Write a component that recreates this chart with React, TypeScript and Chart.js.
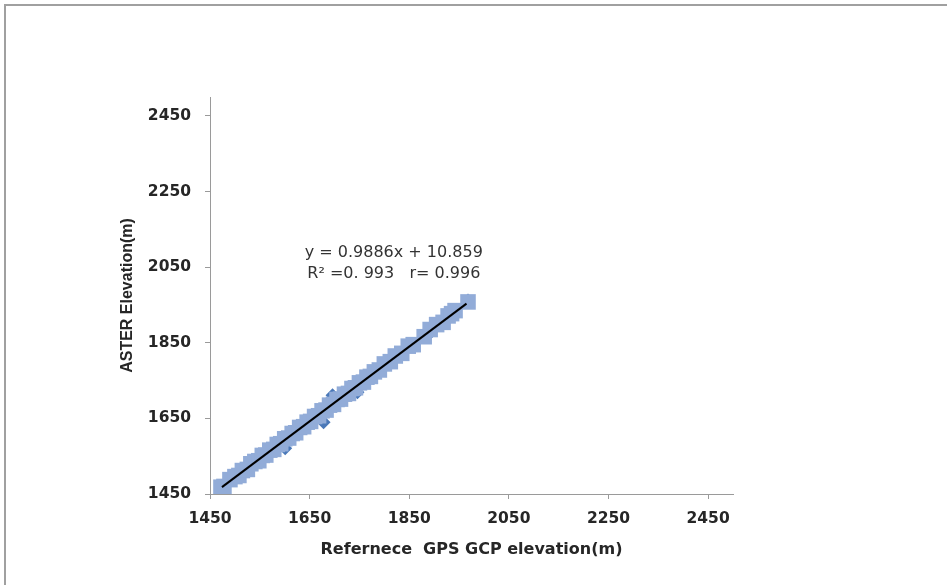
import React, { useEffect, useRef } from "react";
import { Chart, registerables } from "chart.js";

Chart.register(...registerables);

// ---- data ----
const GPS_X = [
  1472, 1478, 1490, 1500, 1508, 1515, 1525, 1532, 1540, 1548, 1555, 1562, 1570, 1578,
  1585, 1592, 1600, 1608, 1615, 1622, 1630, 1638, 1645, 1652, 1660, 1668, 1675, 1683,
  1690, 1698, 1705, 1712, 1720, 1728, 1735, 1742, 1750, 1758, 1765, 1772, 1780, 1790,
  1800, 1812, 1822, 1835, 1848, 1858, 1880, 1892, 1905, 1918, 1928, 1935, 1942, 1968,
];
const ASTER_Y = [
  1468, 1470, 1488, 1496, 1499, 1512, 1515, 1530, 1536, 1538, 1552, 1553, 1566, 1568,
  1581, 1583, 1596, 1598, 1610, 1612, 1626, 1628, 1640, 1642, 1655, 1657, 1670, 1672,
  1685, 1687, 1700, 1701, 1714, 1716, 1729, 1731, 1744, 1746, 1759, 1761, 1773, 1778,
  1794, 1800, 1815, 1822, 1841, 1845, 1866, 1885, 1898, 1904, 1921, 1927, 1935, 1958,
];
const OUTLIER_X = [1601, 1678, 1696, 1746, 1893, 1929, 1968];
const OUTLIER_Y = [1571, 1640, 1711, 1719, 1877, 1930, 1962];

const TICKS = [1450, 1650, 1850, 2050, 2250, 2450];
const AXIS_MIN = 1450;
const AXIS_MAX = 2500;

const SLOPE = 0.9886;
const INTERCEPT = 10.859;
const TREND_X = [1474, 1965];

const EQ_LINES = ["y = 0.9886x + 10.859", "R\u00B2 =0. 993   r= 0.996"];
const EQ_POS_X = 1819;
const EQ_POS_Y = [2087, 2032];

const X_TITLE = "Refernece  GPS GCP elevation(m)";
const Y_TITLE = "ASTER Elevation(m)";

const W = 947;
const H = 585;

export default function App() {
  const ref = useRef<HTMLCanvasElement | null>(null);

  useEffect(() => {
    const canvas = ref.current;
    if (!canvas) return;

    const framePlugin = {
      id: "frame",
      beforeDraw(chart: any) {
        const ctx = chart.ctx;
        ctx.save();
        ctx.fillStyle = "#ffffff";
        ctx.fillRect(0, 0, chart.width, chart.height);
        ctx.fillStyle = "#a0a0a0";
        ctx.fillRect(4, 4, chart.width - 4, 2);
        ctx.fillRect(4, 4, 2, chart.height - 4);
        ctx.restore();
      },
    };

    const eqPlugin = {
      id: "equation",
      afterDatasetsDraw(chart: any) {
        const ctx = chart.ctx;
        const xs = chart.scales.x;
        const ys = chart.scales.y;
        ctx.save();
        ctx.font = "16px 'DejaVu Sans'";
        ctx.fillStyle = "#333333";
        ctx.textAlign = "center";
        ctx.textBaseline = "middle";
        EQ_LINES.forEach((t, i) => {
          ctx.fillText(t, xs.getPixelForValue(EQ_POS_X), ys.getPixelForValue(EQ_POS_Y[i]));
        });
        ctx.restore();
      },
    };

    const setTicks = (scale: any) => {
      scale.ticks = TICKS.map((v) => ({ value: v }));
    };

    const axisCommon = (title: string, titleFont: any, titlePad: any) => ({
      type: "linear" as const,
      min: AXIS_MIN,
      max: AXIS_MAX,
      afterBuildTicks: setTicks,
      grid: {
        display: true,
        drawOnChartArea: false,
        drawTicks: true,
        tickLength: 5,
        color: "#9a9a9a",
        lineWidth: 1,
      },
      border: { display: true, color: "#9a9a9a", width: 1 },
      title: {
        display: true,
        text: title,
        color: "#262626",
        font: titleFont,
        padding: titlePad,
      },
    });

    const tickFont = { family: "'DejaVu Sans'", size: 15.5, weight: "bold" };
    const fmt = (v: any) => String(v);

    const chart = new Chart(canvas, {
      type: "scatter",
      data: {
        datasets: [
          {
            label: "Trend",
            data: TREND_X.map((x) => ({ x, y: SLOPE * x + INTERCEPT })),
            showLine: true,
            borderColor: "#000000",
            borderWidth: 2,
            pointRadius: 0,
            fill: false,
          },
          {
            label: "ASTER",
            data: GPS_X.map((x, i) => ({ x, y: ASTER_Y[i] })),
            pointStyle: "rect",
            pointRadius: 11,
            backgroundColor: "#92acd8",
            borderColor: "#92acd8",
            borderWidth: 0,
          },
          {
            label: "ASTER2",
            data: OUTLIER_X.map((x, i) => ({ x, y: OUTLIER_Y[i] })),
            pointStyle: "rectRot",
            pointRadius: 7,
            backgroundColor: "#4a78b8",
            borderColor: "#4a78b8",
            borderWidth: 0,
          },
        ],
      },
      options: {
        animation: false,
        responsive: false,
        maintainAspectRatio: false,
        layout: { padding: { left: 110, top: 97, right: 214, bottom: 0 } },
        plugins: {
          legend: { display: false },
          tooltip: { enabled: false },
        },
        scales: {
          x: {
            ...axisCommon(X_TITLE, { family: "'DejaVu Sans'", size: 16, weight: "bold" }, { top: 0, bottom: 26 }),
            position: "bottom",
            afterFit: (s: any) => {
              s.height = 91;
            },
            ticks: {
              autoSkip: false,
              maxRotation: 0,
              padding: 11,
              color: "#262626",
              font: tickFont,
              callback: fmt,
            },
          },
          y: {
            ...axisCommon(Y_TITLE, { family: "'Liberation Sans'", size: 16, weight: "bold" }, { top: 8, bottom: 0 }),
            position: "left",
            afterFit: (s: any) => {
              s.width = 100;
            },
            ticks: {
              autoSkip: false,
              padding: 14,
              color: "#262626",
              font: tickFont,
              callback: fmt,
            },
          },
        },
      },
      plugins: [framePlugin, eqPlugin],
    } as any);

    return () => {
      chart.destroy();
    };
  }, []);

  return (
    <div style={{ position: "absolute", left: 0, top: 0, width: W, height: H }}>
      <canvas ref={ref} width={W} height={H} style={{ display: "block", width: W, height: H }} />
    </div>
  );
}
